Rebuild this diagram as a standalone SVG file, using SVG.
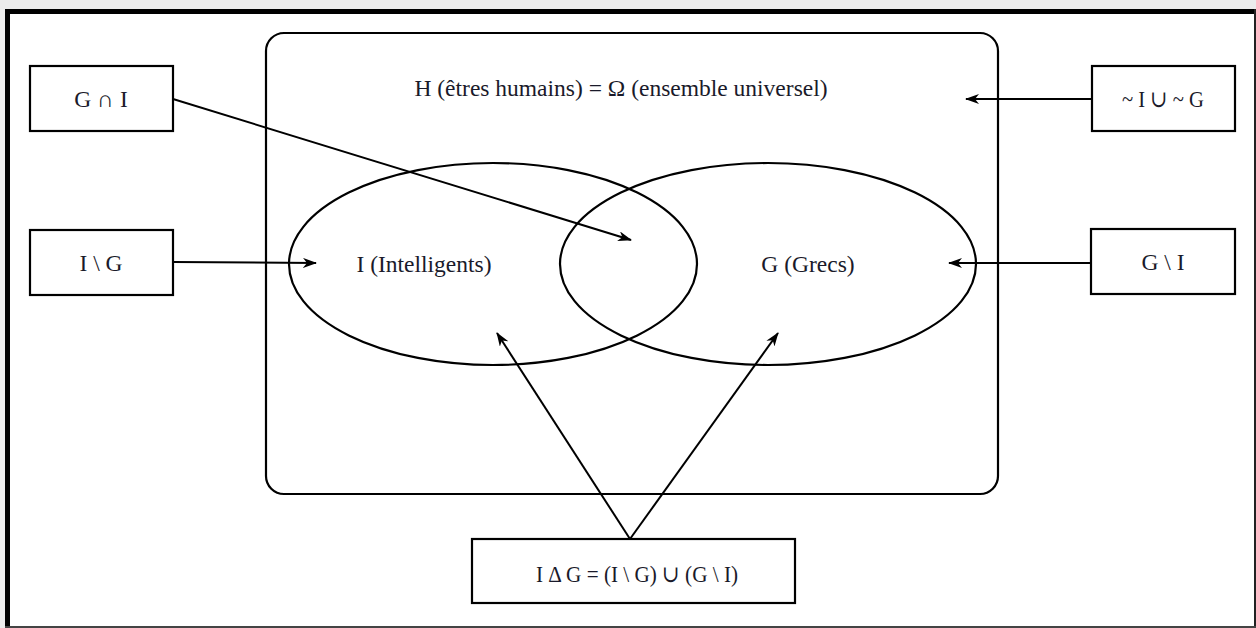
<svg xmlns="http://www.w3.org/2000/svg" width="1256" height="628" viewBox="0 0 1256 628">
<defs>
<style>
.box{fill:#fff;stroke:#000;stroke-width:2.2}
.shape{fill:none;stroke:#000;stroke-width:2.2}
.conn{fill:none;stroke:#000;stroke-width:2}
text{font-family:"Liberation Serif","DejaVu Serif",serif;font-size:23.5px;fill:#1a1a2a;text-anchor:middle}
</style>
<marker id="arr" viewBox="0 0 14 10" refX="13" refY="5" markerWidth="14" markerHeight="10" markerUnits="userSpaceOnUse" orient="auto">
<path d="M0,0 L14,5 L0,10 L4,5 z" fill="#000"/>
</marker>
</defs>
<rect x="0" y="0" width="1256" height="628" fill="#fff"/>
<rect x="0" y="0" width="1256" height="9" fill="#ececec"/>
<rect x="0" y="0" width="5" height="628" fill="#ececec"/>
<rect x="5" y="9" width="1251" height="5" fill="#000"/>
<rect x="5" y="9" width="5" height="619" fill="#000"/>
<rect x="1254" y="9" width="2" height="619" fill="#222"/>
<rect x="5" y="626" width="1251" height="2" fill="#444"/>

<g id="universe">
<rect class="shape" x="266" y="33" width="732" height="461" rx="18"/>
<text x="621" y="96">H (êtres humains) = Ω (ensemble universel)</text>
</g>
<g id="set-I">
<ellipse class="shape" cx="493" cy="264" rx="204" ry="101"/>
<text x="424" y="272">I (Intelligents)</text>
</g>
<g id="set-G">
<ellipse class="shape" cx="768" cy="264" rx="208" ry="101"/>
<text x="808" y="272">G (Grecs)</text>
</g>

<g id="node-GnI">
<rect class="box" x="30" y="66" width="143" height="65"/>
<text x="101" y="107">G ∩ I</text>
</g>
<g id="node-complement">
<rect class="box" x="1092" y="66" width="143" height="65"/>
<text x="1163" y="107" textLength="82" lengthAdjust="spacingAndGlyphs">~ I ∪ ~ G</text>
</g>
<g id="node-IminusG">
<rect class="box" x="30" y="230" width="143" height="65"/>
<text x="101" y="271">I \ G</text>
</g>
<g id="node-GminusI">
<rect class="box" x="1091" y="229" width="144" height="65"/>
<text x="1163" y="270">G \ I</text>
</g>
<g id="node-sym">
<rect class="box" x="472" y="539" width="323" height="64"/>
<text x="637" y="582" textLength="202" lengthAdjust="spacingAndGlyphs">I Δ G = (I \ G) ∪ (G \ I)</text>
</g>

<g id="connectors">
<line class="conn" x1="173" y1="99" x2="631" y2="240" marker-end="url(#arr)"/>
<line class="conn" x1="1092" y1="99" x2="966" y2="99" marker-end="url(#arr)"/>
<line class="conn" x1="173" y1="262" x2="316" y2="263" marker-end="url(#arr)"/>
<line class="conn" x1="1091" y1="263" x2="949" y2="263" marker-end="url(#arr)"/>
<line class="conn" x1="630" y1="539" x2="497" y2="333" marker-end="url(#arr)"/>
<line class="conn" x1="630" y1="539" x2="778" y2="333" marker-end="url(#arr)"/>
</g>
</svg>
